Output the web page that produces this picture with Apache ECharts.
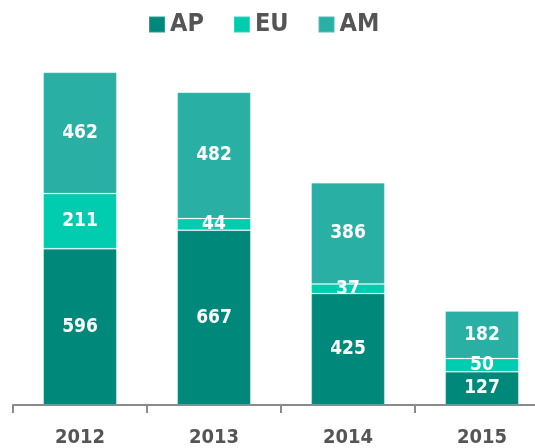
<!DOCTYPE html>
<html>
<head>
<meta charset="utf-8">
<script src="https://cdn.jsdelivr.net/npm/echarts@6/dist/echarts.min.js"></script>
<style>
  html, body { margin: 0; padding: 0; background: #fff; }
  #chart { width: 535px; height: 448px; }
</style>
</head>
<body>
<div id="chart"></div>
<script>
// data
var years = ["2012", "2013", "2014", "2015"];
var ap = [596, 667, 425, 127];
var eu = [211, 44, 37, 50];
var am = [462, 482, 386, 182];

// condensed bold face, stretch goes into the canvas font shorthand
var FONT = "'Liberation Sans Narrow', 'DejaVu Sans Condensed', 'DejaVu Sans', sans-serif";
var WEIGHT = "bold condensed";

function barSeries(name, values, color) {
  return {
    name: name,
    type: "bar",
    stack: "total",
    barWidth: "55%",
    data: values,
    itemStyle: {
      color: color,
      borderColor: "rgba(255,255,255,0.18)",
      borderWidth: 1
    },
    label: {
      show: true,
      position: "inside",
      color: "#fff",
      fontFamily: FONT,
      fontWeight: WEIGHT,
      fontSize: 19
    }
  };
}

var myChart = echarts.init(document.getElementById("chart"));
myChart.setOption({
  animation: false,
  legend: {
    left: 143,
    top: 7,
    itemWidth: 16,
    itemHeight: 16,
    itemGap: 29,
    icon: "rect",
    textStyle: {
      color: "#555",
      fontFamily: FONT,
      fontWeight: WEIGHT,
      fontSize: 25
    },
    data: ["AP", "EU", "AM"]
  },
  grid: { left: 13, width: 536, top: 38, bottom: 43, outerBoundsMode: "none" },
  xAxis: {
    type: "category",
    data: years,
    axisLine: { lineStyle: { color: "#8a8a8a", width: 2 } },
    axisTick: { show: true, length: 8, lineStyle: { color: "#8a8a8a", width: 2 } },
    axisLabel: {
      margin: 23,
      color: "#555",
      fontFamily: FONT,
      fontWeight: WEIGHT,
      fontSize: 20
    }
  },
  yAxis: {
    type: "value",
    min: 0,
    max: 1400,
    show: false,
    splitLine: { show: false }
  },
  series: [
    barSeries("AP", ap, "#00897a"),
    barSeries("EU", eu, "#00ccb0"),
    barSeries("AM", am, "#2aafa5")
  ]
});
</script>
</body>
</html>
